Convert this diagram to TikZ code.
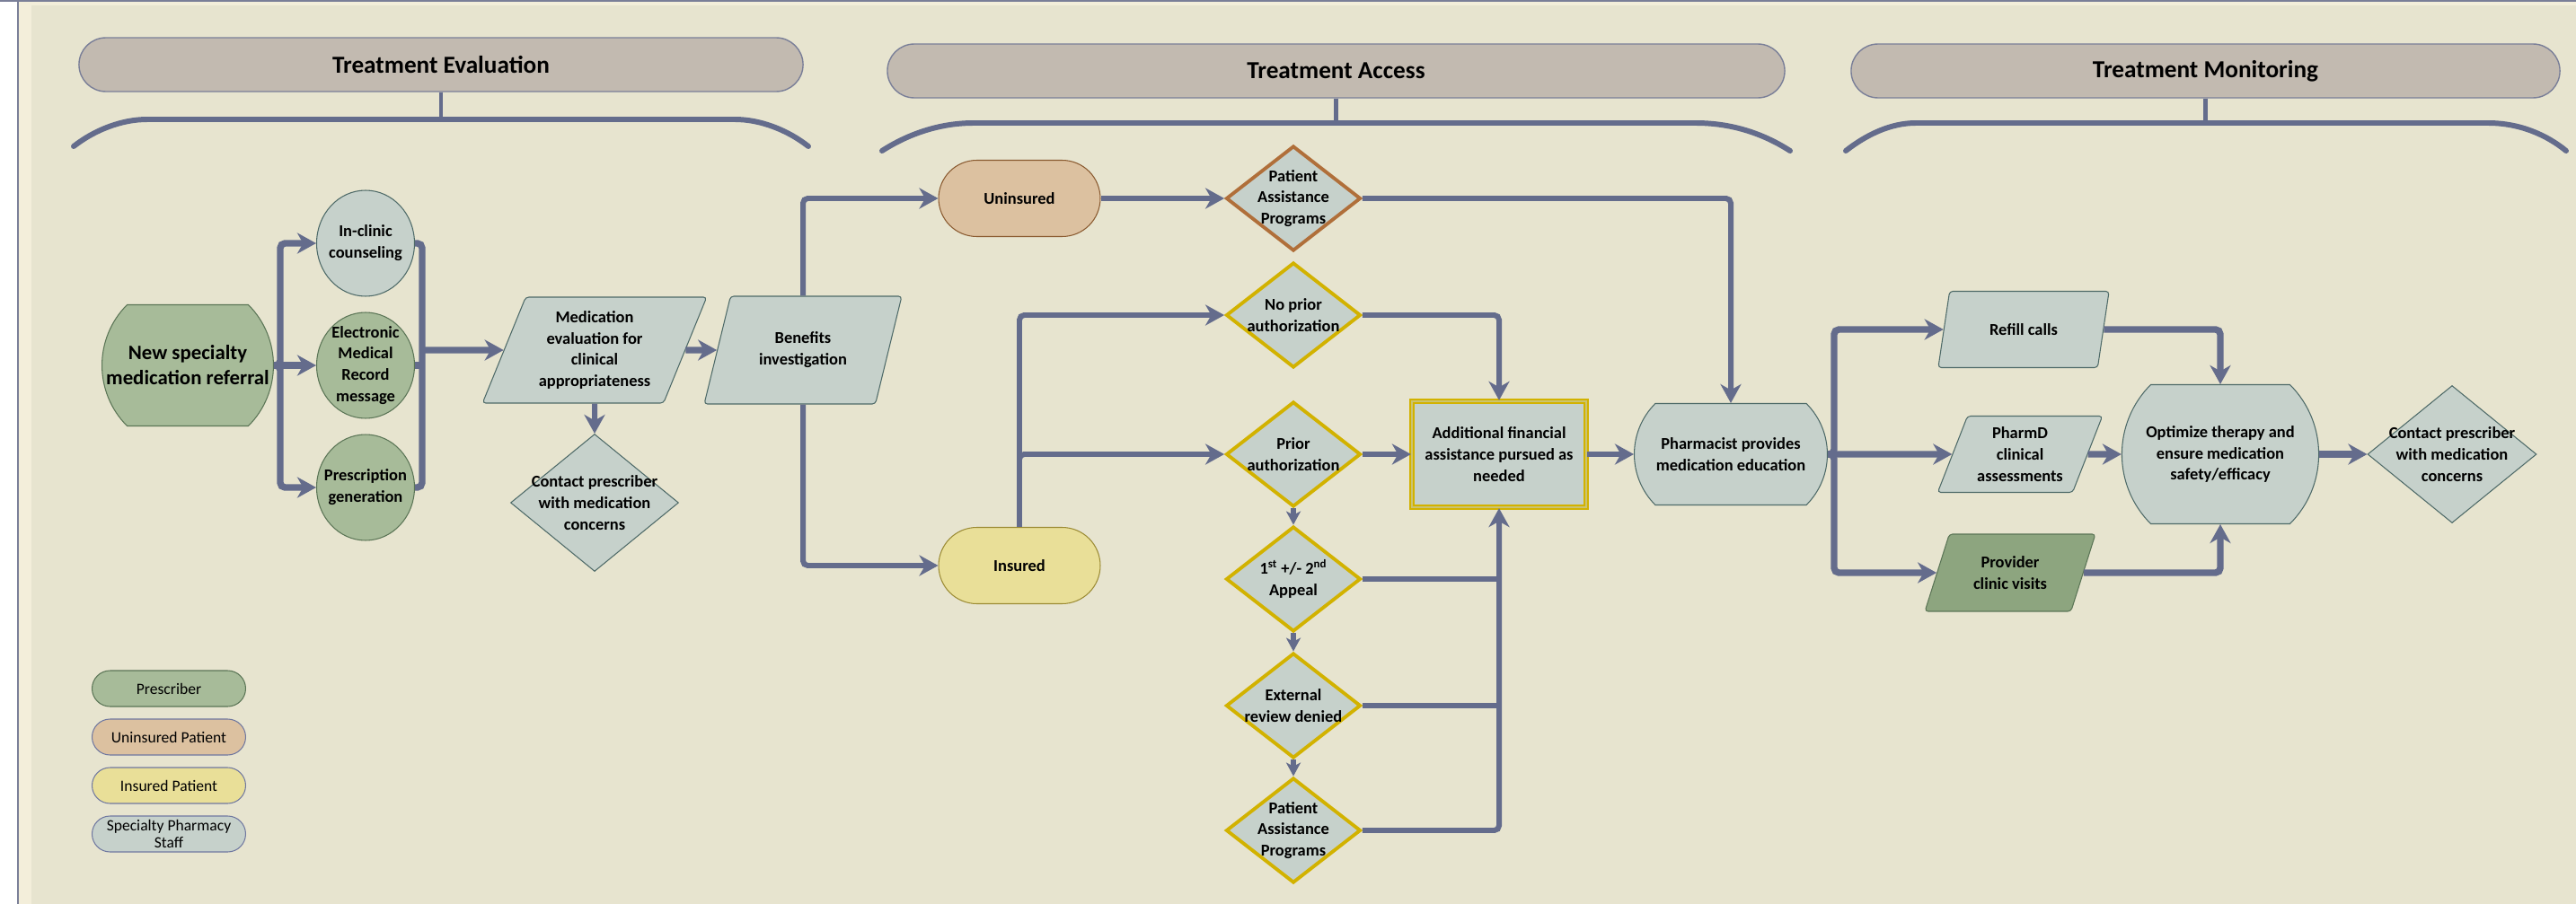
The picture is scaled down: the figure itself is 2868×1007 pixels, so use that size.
\documentclass[tikz,border=0pt]{standalone}
\usepackage{fontspec}
\setmainfont{Carlito}
\usetikzlibrary{shapes.geometric,shapes.misc,arrows.meta,positioning}

\definecolor{bgc}{HTML}{E7E4CF}
\definecolor{edgec}{HTML}{F3EEDA}
\definecolor{linkc}{HTML}{646C8C}
\definecolor{hdfill}{HTML}{C2BAB0}
\definecolor{hdline}{HTML}{7A7F98}
\definecolor{staff}{HTML}{C6D1CB}
\definecolor{staffline}{HTML}{4E6A68}
\definecolor{presc}{HTML}{A7BB99}
\definecolor{prescdk}{HTML}{8DA57F}
\definecolor{prescline}{HTML}{5B7556}
\definecolor{unins}{HTML}{DCC1A0}
\definecolor{uninsline}{HTML}{8A5A30}
\definecolor{ins}{HTML}{E9DF98}
\definecolor{insline}{HTML}{9C8C35}
\definecolor{legline}{HTML}{7078A0}
\definecolor{gold}{HTML}{D2B200}
\definecolor{rust}{HTML}{B06F3A}

\tikzset{
  txt/.style={font=\bfseries\fontsize{10.5}{13.6}\selectfont, align=center, text=black},
  header/.style={rounded rectangle, fill=hdfill, draw=hdline, line width=0.8pt,
    minimum height=1.2cm, font=\bfseries\fontsize{15.5}{18}\selectfont},
  staffnode/.style={txt, fill=staff, draw=staffline, line width=0.6pt},
  prescnode/.style={txt, fill=presc, draw=prescline, line width=0.6pt},
  oval/.style={ellipse, inner sep=-8pt, minimum width=2.18cm, minimum height=2.36cm},
  para/.style={trapezium, trapezium left angle=66, trapezium right angle=114,
    trapezium stretches=true, rounded corners=2pt, inner sep=0pt},
  bulge/.style={rounded rectangle, rounded rectangle arc length=90, inner sep=0pt},
  pill/.style={rounded rectangle, inner sep=0pt, minimum width=3.6cm, minimum height=1.7cm},
  decide/.style={diamond, txt, fill=staff, draw=gold, line width=2.2pt, inner sep=-30pt,
    minimum width=3cm, minimum height=2.34cm},
  legend/.style={rounded rectangle, inner sep=0pt, minimum width=3.42cm, minimum height=0.8cm,
    line width=0.6pt, draw=legline, font=\fontsize{10}{11}\selectfont, align=center},
  link/.style={draw=linkc, line width=3.4pt, rounded corners=3pt},
  flow/.style={link, -{Stealth[length=0.42cm,width=0.46cm,inset=0.13cm]}},
  flowsm/.style={draw=linkc, line width=3pt, -{Stealth[length=0.3cm,width=0.32cm,inset=0.08cm]}},
  wide/.style={line width=4.2pt},
  bracec/.style={draw=linkc, line width=3.4pt, line cap=round},
  stemc/.style={draw=linkc, line width=2.4pt}
}

\begin{document}
\begin{tikzpicture}[x=0.02cm, y=-0.02cm]
\useasboundingbox (0,0) rectangle (2868,1007);
% page
\fill[bgc] (0,0) rectangle (2868,1007);
\fill[white] (0,0) rectangle (19,1007);
\fill[edgec] (21,2) rectangle (35,1007);
\fill[edgec] (21,2) rectangle (2868,6);
\draw[hdline, line width=1pt] (20,0) -- (20,1007);
\draw[hdline, line width=1.2pt] (0,1) -- (2868,1);

% section headers
\node[header, minimum width=16.36cm] (hdeval) at (491,72) {Treatment Evaluation};
\node[header, minimum width=20.22cm] (hdacc) at (1487.5,79) {Treatment Access};
\node[header, minimum width=16.02cm] (hdmon) at (2455.5,79) {Treatment Monitoring};
\draw[bracec] (82,163) .. controls (105,145) and (135,133) .. (164,133) -- (818,133)
  .. controls (847,133) and (877,145) .. (900,163);
\draw[stemc] (hdeval.south) -- (491,133);
\draw[bracec] (982,168) .. controls (1010,150) and (1045,137) .. (1084,137) -- (1888,137)
  .. controls (1930,137) and (1965,150) .. (1993,168);
\draw[stemc] (hdacc.south) -- (1487.5,137);
\draw[bracec] (2055,168) .. controls (2078,150) and (2105,137) .. (2133,137) -- (2770,137)
  .. controls (2805,137) and (2835,150) .. (2857,168);
\draw[stemc] (hdmon.south) -- (2455.5,137);

% treatment evaluation
\node[prescnode, bulge, minimum width=3.4cm, minimum height=2.7cm,
  font=\bfseries\fontsize{13}{16}\selectfont] (ref) at (209,407)
  {New specialty\\medication referral};
\node[staffnode, oval] (icc) at (407,271) {In-clinic\\counseling};
\node[prescnode, oval] (emr) at (407,407) {Electronic\\Medical\\Record\\message};
\node[prescnode, oval] (rxg) at (407,543) {Prescription\\generation};
\node[staffnode, para, minimum width=5cm, minimum height=2.36cm] (med) at (662,390)
  {Medication\\evaluation for\\clinical\\appropriateness};
\node[staffnode, diamond, inner sep=-30pt, minimum width=3.74cm, minimum height=3.06cm] (cpl)
  at (662,560) {Contact prescriber\\with medication\\concerns};
\node[staffnode, para, minimum width=4.42cm, minimum height=2.4cm] (ben) at (894,390)
  {Benefits\\investigation};
\coordinate (evalbus) at (470,390);

\draw[flow, wide] (ref.east) -- (emr.west);
\draw[flow, wide] (ref.east) -- ++(7,0) |- (icc.west);
\draw[flow, wide] (ref.east) -- ++(7,0) |- (rxg.west);
\draw[link, wide] (icc.east) -| (evalbus);
\draw[link, wide] (rxg.east) -| (evalbus);
\draw[link, wide] (emr.east) -- (emr.east -| evalbus);
\draw[flow, wide] (evalbus) -- (med.west);
\draw[flow, wide] (med.east) -- (ben.west);
\draw[flow] (med.south) -- (cpl.north);

% treatment access
\node[txt, pill, fill=unins, draw=uninsline, line width=0.6pt] (unins) at (1135,221) {Uninsured};
\node[txt, pill, fill=ins, draw=insline, line width=0.6pt] (ins) at (1135,630) {Insured};
\node[decide, draw=rust] (papt) at (1440,221) {Patient\\Assistance\\Programs};
\node[decide] (noprior) at (1440,351) {No prior\\authorization};
\node[decide] (prior) at (1440,506) {Prior\\authorization};
\node[decide] (appeal) at (1440,645) {1\textsuperscript{st} +/- 2\textsuperscript{nd}\\Appeal};
\node[decide] (extrev) at (1440,786) {External\\review denied};
\node[decide] (papb) at (1440,925) {Patient\\Assistance\\Programs};
\node[staffnode, draw=gold, line width=1.3pt, double=gold!45!staff, double distance=1.2pt,
  minimum width=3.88cm, minimum height=2.36cm, inner sep=0pt] (addl) at (1669,506)
  {Additional financial\\assistance pursued as\\needed};

\draw[flow] (ben.north) |- (unins.west);
\draw[flow] (ben.south) |- (ins.west);
\draw[flow] (unins.east) -- (papt.west);
\draw[flow] (ins.north) |- (noprior.west);
\draw[flow] (ins.north) |- (prior.west);
\draw[flow] (noprior.east) -| (addl.north);
\draw[flow] (prior.east) -- (addl.west);
\draw[flowsm] (prior.south) -- (appeal.north);
\draw[flowsm] (appeal.south) -- (extrev.north);
\draw[flowsm] (extrev.south) -- (papb.north);
\draw[link] (appeal.east) -- (appeal.east -| addl.south);
\draw[link] (extrev.east) -- (extrev.east -| addl.south);
\draw[flow] (papb.east) -| (addl.south);

% treatment monitoring
\node[staffnode, bulge, minimum width=4.3cm, minimum height=2.26cm] (pharm) at (1927,506)
  {Pharmacist provides\\medication education};
\node[staffnode, para, minimum width=3.82cm, minimum height=1.7cm] (refill) at (2253,367)
  {Refill calls};
\node[staffnode, para, minimum width=3.68cm, minimum height=1.7cm] (pharmd) at (2249,506)
  {PharmD\\clinical\\assessments};
\node[prescnode, para, fill=prescdk, minimum width=3.82cm, minimum height=1.72cm] (prov)
  at (2238,638) {Provider\\clinic visits};
\node[staffnode, bulge, minimum width=4.02cm, minimum height=3.1cm] (opt) at (2472,506)
  {Optimize therapy and\\ensure medication\\safety/efficacy};
\node[staffnode, diamond, inner sep=-30pt, minimum width=3.76cm, minimum height=3.06cm] (cpr)
  at (2730,506) {Contact prescriber\\with medication\\concerns};

\draw[flow] (papt.east) -| (pharm.north);
\draw[flow] (addl.east) -- (pharm.west);
\draw[flow, wide] (pharm.east) -- ++(7,0) |- (refill.west);
\draw[flow, wide] (pharm.east) -- (pharmd.west);
\draw[flow, wide] (pharm.east) -- ++(7,0) |- (prov.west);
\draw[flow, wide] (refill.east) -| (opt.north);
\draw[flow, wide] (prov.east) -| (opt.south);
\draw[flow, wide] (pharmd.east) -- (opt.west);
\draw[flow, wide] (opt.east) -- (cpr.west);

% legend
\node[legend, fill=presc, draw=prescline] (lgpresc) at (188,767) {Prescriber};
\node[legend, fill=unins] (lgunins) at (188,821) {Uninsured Patient};
\node[legend, fill=ins] (lgins) at (188,875) {Insured Patient};
\node[legend, fill=staff] (lgstaff) at (188,929) {Specialty Pharmacy\\Staff};
\end{tikzpicture}
\end{document}
